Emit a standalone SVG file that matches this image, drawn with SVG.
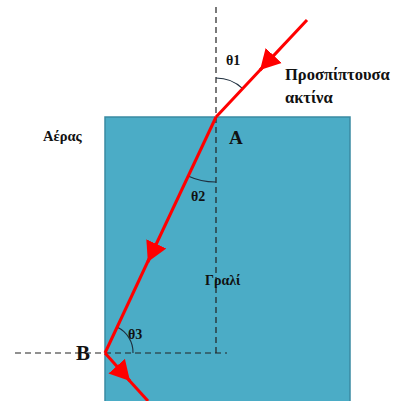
<svg xmlns="http://www.w3.org/2000/svg" width="402" height="401" viewBox="0 0 402 401">
<defs>
<style>
.dash{stroke:#222;stroke-width:1.2;stroke-dasharray:6 4;fill:none}
.ray{stroke:#ff0000;stroke-width:3;fill:none}
.arc{stroke:#1f2f3f;stroke-width:1.1;fill:none}
.t{font-family:"Liberation Serif","Times New Roman",serif;font-weight:bold;fill:#111}
</style>
<marker id="ah" markerUnits="userSpaceOnUse" markerWidth="22" markerHeight="24" refX="20" refY="11" orient="auto" viewBox="0 0 22 22">
<path d="M0,0 L20,11 L0,22 z" fill="#ff0000"/>
</marker>
</defs>
<rect width="402" height="401" fill="#ffffff"/>
<g id="glass">
<rect x="105" y="117" width="245" height="290" fill="#4bacc6" stroke="#3a8aa2" stroke-width="1.5"/>
</g>
<g id="normals">
<line class="dash" x1="216" y1="7" x2="216" y2="353"/>
<line class="dash" x1="15" y1="353" x2="227" y2="353"/>
</g>
<g id="arcs">
<path class="arc" d="M216,78 A39,39 0 0 1 242.7,88.6"/>
<path class="arc" d="M188,176 A65,65 0 0 0 216,182"/>
<path class="arc" d="M117,327 A28,28 0 0 1 133,353"/>
</g>
<g id="connectors">
<line class="ray" x1="307" y1="20" x2="260" y2="70.1" marker-end="url(#ah)"/>
<line class="ray" x1="262" y1="68" x2="216" y2="117"/>
<line class="ray" x1="216" y1="117" x2="147.8" y2="262" marker-end="url(#ah)"/>
<line class="ray" x1="149" y1="259" x2="105" y2="353"/>
<line class="ray" x1="105" y1="353" x2="130" y2="381" marker-end="url(#ah)"/>
<line class="ray" x1="128" y1="379" x2="148" y2="401"/>
</g>
<g id="labels">
<text class="t" x="226" y="65" font-size="14">θ1</text>
<text class="t" x="285" y="80" font-size="16.5">Προσπίπτουσα</text>
<text class="t" x="285" y="103" font-size="16.5">ακτίνα</text>
<text class="t" x="43" y="141" font-size="14.5">Αέρας</text>
<text class="t" x="229" y="144" font-size="19">A</text>
<text class="t" x="191" y="201" font-size="14">θ2</text>
<text class="t" x="205" y="285" font-size="14">Γραλί</text>
<text class="t" x="128" y="339" font-size="14">θ3</text>
<text class="t" x="76" y="360" font-size="21">B</text>
</g>
</svg>
